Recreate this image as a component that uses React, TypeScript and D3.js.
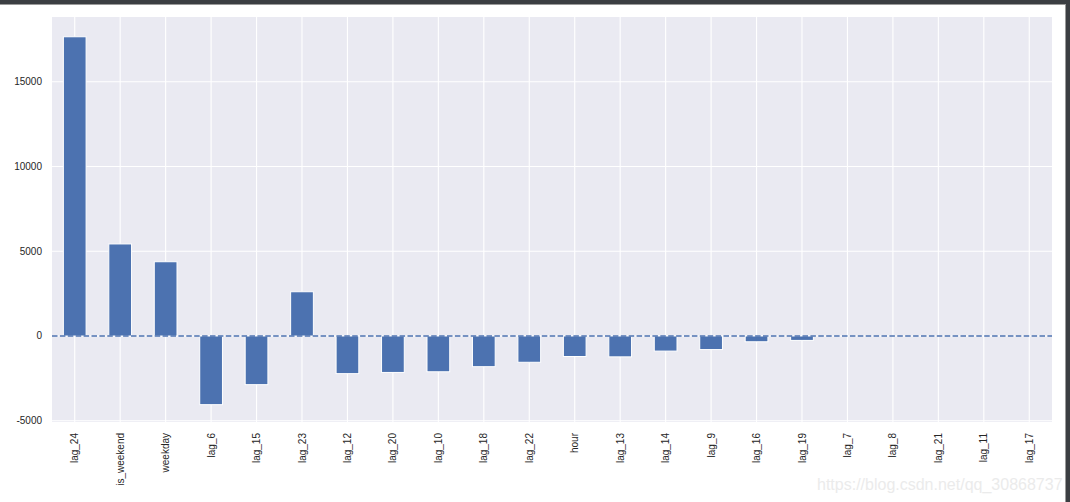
import React from "react";
import * as d3 from "d3";

const categories = [
  "lag_24", "is_weekend", "weekday", "lag_6", "lag_15", "lag_23", "lag_12", "lag_20",
  "lag_10", "lag_18", "lag_22", "hour", "lag_13", "lag_14", "lag_9", "lag_16",
  "lag_19", "lag_7", "lag_8", "lag_21", "lag_11", "lag_17",
];
const values = [
  17650, 5430, 4380, -4050, -2870, 2610, -2220, -2150,
  -2110, -1810, -1550, -1210, -1230, -890, -800, -340,
  -260, 0, 0, 0, 0, 0,
];
const yTicks = [-5000, 0, 5000, 10000, 15000];
const yLimits = [-5073, 18816];

const W = 1070;
const H = 502;
const L = 52, R = 1052, T = 17, B = 422;
const BLUE = "#4c72b0";
const FONT = "'Liberation Sans', Arial, sans-serif";

export default function App() {
  const x = d3.scaleBand<string>().domain(categories).range([L, R]).paddingInner(0.5).paddingOuter(0.25);
  const y = d3.scaleLinear().domain(yLimits).range([B, T]);
  const bw = x.bandwidth();
  const cx = (c: string) => (x(c) as number) + bw / 2;

  return (
    <svg width={W} height={H} style={{ position: "absolute", left: 0, top: 0, background: "#fff" }}>
      <rect x={0} y={0} width={W} height={H} fill="#fff" />
      {/* window frame */}
      <rect x={0} y={0} width={W} height={4} fill="#3b3e42" />
      <line x1={0} x2={1066} y1={4.5} y2={4.5} stroke="#9a9a9a" />
      <rect x={1066} y={0} width={4} height={H} fill="#3b3e42" />
      <line x1={1065.5} x2={1065.5} y1={4} y2={H} stroke="#9a9a9a" />

      <rect x={L} y={T} width={R - L} height={B - T} fill="#eaeaf2" />
      {yTicks.map((t) => (
        <line key={"hy" + t} x1={L} x2={R} y1={y(t)} y2={y(t)} stroke="#fff" strokeWidth={1.1} />
      ))}
      {categories.map((c) => (
        <line key={"vx" + c} x1={cx(c)} x2={cx(c)} y1={T} y2={B} stroke="#fff" strokeWidth={1.1} />
      ))}
      {categories.map((c, i) => {
        const v = values[i];
        const y0 = y(Math.max(0, v));
        const y1 = y(Math.min(0, v));
        return (
          <rect key={"b" + c} x={x(c)} y={y0} width={bw} height={Math.max(0, y1 - y0)} fill={BLUE} stroke="#fff" strokeWidth={1} />
        );
      })}
      <line x1={L} x2={R} y1={y(0)} y2={y(0)} stroke={BLUE} strokeWidth={1.5} strokeDasharray="5.5 2.4" />

      {yTicks.map((t) => (
        <text key={"yl" + t} x={42} y={y(t)} dy="0.35em" textAnchor="end" fontSize={10} fontFamily={FONT} fill="#262626">
          {t}
        </text>
      ))}
      {categories.map((c) => (
        <text key={"xl" + c} transform={`translate(${cx(c)},433) rotate(-90)`} dy="0.35em" textAnchor="end" fontSize={10} fontFamily={FONT} fill="#262626">
          {c}
        </text>
      ))}
      <text x={817} y={490} textAnchor="start" fontSize={16} fontFamily={FONT} fill="#ebebeb">
        https://blog.csdn.net/qq_30868737
      </text>
    </svg>
  );
}
